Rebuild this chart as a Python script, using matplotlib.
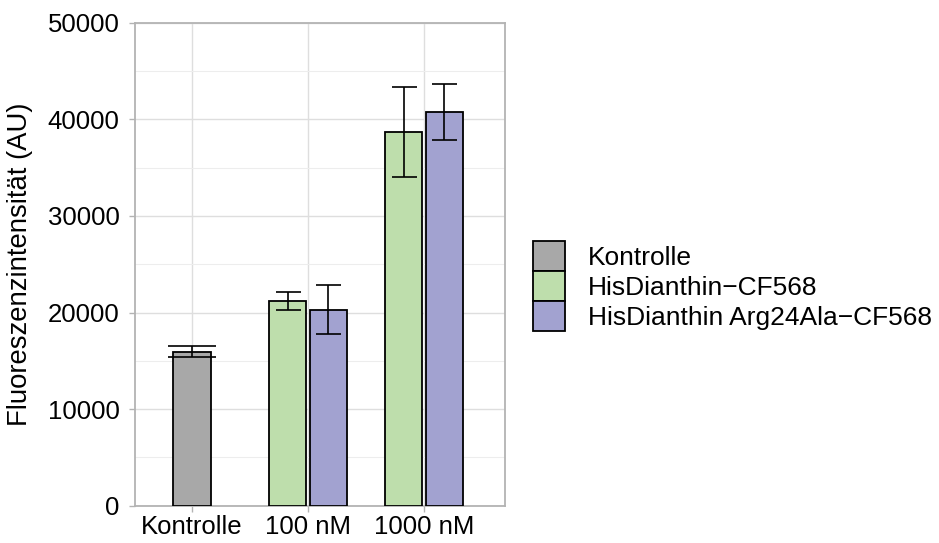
import matplotlib
matplotlib.use("Agg")
import matplotlib.pyplot as plt
from matplotlib.patches import Patch
import numpy as np

plt.rcParams['font.family'] = ['Liberation Sans', 'DejaVu Sans']

categories = ['Kontrolle', '100 nM', '1000 nM']
series_names = ['Kontrolle', 'HisDianthin\u2212CF568', 'HisDianthin Arg24Ala\u2212CF568']
colors = ['#A8A8A8', '#BEDEAC', '#A2A2D0']

kontrolle_mean = [15950]
kontrolle_err = [600]
his_mean = [21160, 38700]
his_err = [930, 4640]
arg_mean = [20310, 40740]
arg_err = [2500, 2915]

yticks = [0, 10000, 20000, 30000, 40000, 50000]

W, H = 939, 543
fig = plt.figure(figsize=(W / 100, H / 100), dpi=100)
ax = fig.add_axes([134.7 / W, 1 - 505.7 / H, 370 / W, (505.7 - 22.7) / H])

bw = 0.32
off = 0.175
fs_tick = 18.5
fs_lab = 19.8
fs_leg = 19
edge_lw = 1.3
err_lw = 1.2

ax.bar([0], kontrolle_mean, width=bw, color=colors[0], edgecolor='black', linewidth=edge_lw, zorder=3)
ax.errorbar([0], kontrolle_mean, yerr=kontrolle_err, fmt='none', ecolor='black',
            elinewidth=err_lw, capsize=17, capthick=err_lw, zorder=4)
xs = np.array([1, 2])
ax.bar(xs - off, his_mean, width=bw, color=colors[1], edgecolor='black', linewidth=edge_lw, zorder=3)
ax.bar(xs + off, arg_mean, width=bw, color=colors[2], edgecolor='black', linewidth=edge_lw, zorder=3)
ax.errorbar(xs - off, his_mean, yerr=his_err, fmt='none', ecolor='black',
            elinewidth=err_lw, capsize=9, capthick=err_lw, zorder=4)
ax.errorbar(xs + off, arg_mean, yerr=arg_err, fmt='none', ecolor='black',
            elinewidth=err_lw, capsize=9, capthick=err_lw, zorder=4)

ax.set_xlim(-0.494, 2.696)
ax.set_ylim(0, 50000)
ax.set_xticks(range(len(categories)))
ax.set_xticklabels(categories)
ax.set_yticks(yticks)
ax.set_yticks([5000, 15000, 25000, 35000, 45000], minor=True)

ax.grid(which='major', color='#DEDEDE', linewidth=1.0, zorder=0)
ax.grid(which='minor', axis='y', color='#EDEDED', linewidth=0.8, zorder=0)
ax.set_axisbelow(True)

for s in ax.spines.values():
    s.set_color('#B3B3B3')
    s.set_linewidth(1.3)

ax.tick_params(axis='y', which='major', colors='#B3B3B3', length=4, width=1.0,
               labelcolor='black', labelsize=fs_tick, pad=7)
ax.tick_params(axis='x', which='major', colors='#B3B3B3', length=4, width=1.0,
               labelcolor='black', labelsize=fs_tick, pad=3)
ax.tick_params(axis='both', which='minor', length=0)

ax.set_ylabel('Fluoreszenzintensit\u00e4t (AU)', fontsize=fs_lab)
ax.yaxis.set_label_coords((33 - 134.7) / 370, 0.5)

handles = [Patch(facecolor=c, edgecolor='black', linewidth=edge_lw) for c in colors]
fig.legend(handles, series_names, loc='upper left', bbox_to_anchor=(533 / W, 1 - 241 / H),
           frameon=False, fontsize=fs_leg, borderpad=0, labelspacing=0.0,
           handlelength=1.21, handleheight=1.37, handletextpad=0.87, borderaxespad=0)

fig.savefig('out.png', dpi=100)
